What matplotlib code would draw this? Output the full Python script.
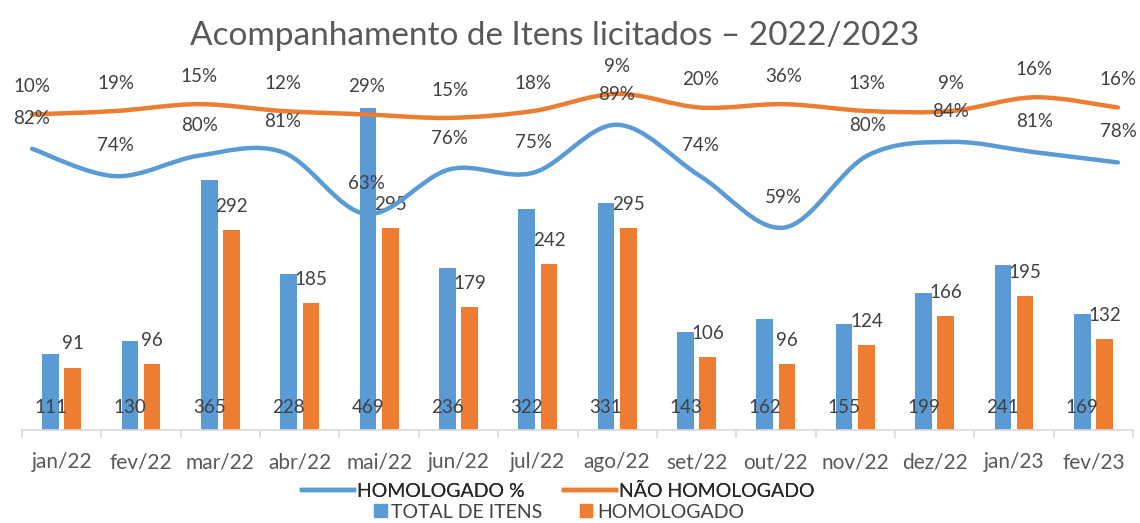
import matplotlib.pyplot as plt
import numpy as np
from matplotlib.path import Path
from matplotlib.patches import PathPatch, Patch
from matplotlib.lines import Line2D

plt.rcParams['font.family'] = ['Lato', 'DejaVu Sans']

# Data
meses = ['jan/22', 'fev/22', 'mar/22', 'abr/22', 'mai/22', 'jun/22', 'jul/22',
         'ago/22', 'set/22', 'out/22', 'nov/22', 'dez/22', 'jan/23', 'fev/23']
total_itens = [111, 130, 365, 228, 469, 236, 322, 331, 143, 162, 155, 199, 241, 169]
homologado = [91, 96, 292, 185, 295, 179, 242, 295, 106, 96, 124, 166, 195, 132]
homologado_pct = [82, 74, 80, 81, 63, 76, 75, 89, 74, 59, 80, 84, 81, 78]
nao_homologado_pct = [10, 19, 15, 12, 29, 15, 18, 9, 20, 36, 13, 9, 16, 16]

AZUL = '#5B9BD5'
LARANJA = '#ED7D31'
CINZA = '#595959'


def smooth_path(x, y):
    # Excel style smoothed line: cubic bezier between each pair of points
    x = np.asarray(x, float)
    y = np.asarray(y, float)
    pts = np.column_stack([x, y])
    n = len(pts)
    verts = [pts[0]]
    codes = [Path.MOVETO]
    for i in range(n - 1):
        p0 = pts[max(i - 1, 0)]
        p1 = pts[i]
        p2 = pts[i + 1]
        p3 = pts[min(i + 2, n - 1)]
        c1 = p1 + (p2 - p0) / 6
        c2 = p2 - (p3 - p1) / 6
        verts += [c1, c2, p2]
        codes += [Path.CURVE4] * 3
    return Path(verts, codes)


fig = plt.figure(figsize=(11.4, 5.23), dpi=100)
rect = [22 / 1140, 1 - 430 / 523, 1111 / 1140, 343 / 523]

# bars
ax = fig.add_axes(rect)
x = np.arange(len(meses))
w = 0.21
ax.bar(x - 0.14, total_itens, w, color=AZUL, zorder=2)
ax.bar(x + 0.14, homologado, w, color=LARANJA, zorder=2)
ax.set_xlim(-0.5, len(meses) - 0.5)
ax.set_ylim(0, 500)
ax.set_yticks([])
for s in ['top', 'right', 'left']:
    ax.spines[s].set_visible(False)
ax.spines['bottom'].set_color('#D9D9D9')
ax.spines['bottom'].set_linewidth(1.2)
ax.set_xticks(x)
ax.set_xticklabels(meses, fontsize=15, color=CINZA)
ax.tick_params(axis='x', which='major', length=0, pad=16)
ax.set_xticks(np.arange(-0.5, len(meses)), minor=True)
ax.tick_params(axis='x', which='minor', length=6, color='#D9D9D9', width=1.2)

for i in range(len(meses)):
    ax.annotate(str(total_itens[i]), (x[i] - 0.14, 0), xytext=(0, 16),
                textcoords='offset points', ha='center', va='center',
                fontsize=13.5, color='#404040', zorder=3)
    ax.annotate(str(homologado[i]), (x[i] + 0.14, homologado[i]), xytext=(0, 17),
                textcoords='offset points', ha='center', va='center',
                fontsize=13.5, color='#404040', zorder=3)

# lines (secondary axes, stacked percentages)
ax2 = fig.add_axes(rect, frameon=False)
ax2.set_xlim(-0.12, 13.18)
ax2.set_ylim(0, 1)
ax2.set_xticks([])
ax2.set_yticks([])
xl = np.arange(len(meses))
y_hom = np.array(homologado_pct) / 100
y_nao = y_hom + np.array(nao_homologado_pct) / 100
ax2.add_patch(PathPatch(smooth_path(xl, y_hom), fill=False, edgecolor=AZUL,
                        lw=3.2, capstyle='round', zorder=4))
ax2.add_patch(PathPatch(smooth_path(xl, y_nao), fill=False, edgecolor=LARANJA,
                        lw=3.2, capstyle='round', zorder=4))
for i in range(len(meses)):
    ax2.annotate(f'{homologado_pct[i]}%', (xl[i], y_hom[i]), xytext=(0, 22),
                 textcoords='offset points', ha='center', va='center',
                 fontsize=13.5, color='#404040', zorder=5)
    ax2.annotate(f'{nao_homologado_pct[i]}%', (xl[i], y_nao[i]), xytext=(0, 20),
                 textcoords='offset points', ha='center', va='center',
                 fontsize=13.5, color='#404040', zorder=5)

fig.text(555 / 1140, 1 - 36 / 523, 'Acompanhamento de Itens licitados – 2022/2023',
         ha='center', va='center', fontsize=24, color=CINZA)

# legends
h1 = [Line2D([], [], color=AZUL, lw=3.2), Line2D([], [], color=LARANJA, lw=3.2)]
leg1 = fig.legend(h1, ['HOMOLOGADO %', 'NÃO HOMOLOGADO'], loc='center',
                  bbox_to_anchor=(558 / 1140, 1 - 491 / 523), ncol=2, frameon=False,
                  fontsize=14, handlelength=2.7, handletextpad=0.15,
                  columnspacing=2.0, borderpad=0)
for t in leg1.get_texts():
    t.set_color('#262626')
h2 = [Patch(color=AZUL), Patch(color=LARANJA)]
leg2 = fig.legend(h2, ['TOTAL DE ITENS', 'HOMOLOGADO'], loc='center',
                  bbox_to_anchor=(559 / 1140, 1 - 512 / 523), ncol=2, frameon=False,
                  fontsize=14, handlelength=0.65, handleheight=0.65,
                  handletextpad=0.25, columnspacing=1.9, borderpad=0)
for t in leg2.get_texts():
    t.set_color('#404040')
fig.add_artist(leg1)

fig.savefig('out.png', dpi=100)
